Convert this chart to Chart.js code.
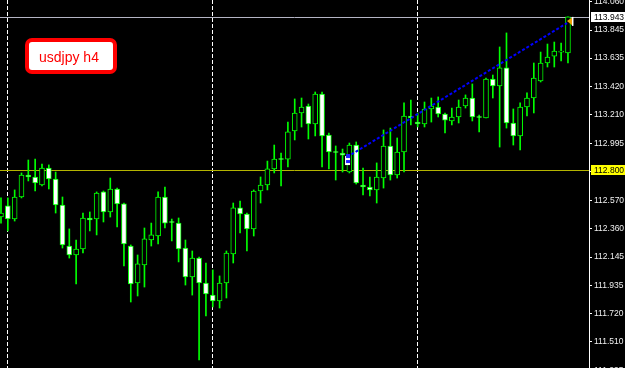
<!DOCTYPE html>
<html>
  <head>
    <meta charset="UTF-8">
    <title>usdjpy h4</title>
    <script src="https://cdn.jsdelivr.net/npm/chart.js@4.4.0/dist/chart.umd.min.js"></script>
    <style>
      html, body { margin: 0; padding: 0; background: #000; }
      canvas { display: block; }
    </style>
  </head>
  <body>
    <canvas id="chart" width="625" height="368"></canvas>

    <script>
      // USDJPY H4 candles (oldest first)
      const opens = [
        112.445, 112.528, 112.430, 112.595, 112.760, 112.745, 112.685, 112.812, 112.730, 112.535,
        112.228, 112.161, 112.206, 112.438, 112.430, 112.633, 112.483, 112.655, 112.543, 112.228,
        111.951, 112.086, 112.273, 112.303, 112.595, 112.408, 112.400, 112.213, 111.996, 112.138,
        111.951, 111.861, 111.817, 111.951, 112.168, 112.513, 112.468, 112.356, 112.640, 112.685,
        112.805, 112.879, 112.879, 113.089, 113.224, 113.276, 113.142, 113.366, 113.059, 112.932,
        112.924, 112.782, 112.984, 112.685, 112.670, 112.648, 112.737, 112.977, 112.760, 112.932,
        113.201, 113.156, 113.142, 113.254, 113.269, 113.216, 113.164, 113.194, 113.276, 113.336,
        113.194, 113.186, 113.478, 113.426, 113.561, 113.149, 113.052, 113.269, 113.336, 113.463,
        113.598, 113.650, 113.680, 113.673
      ];
      const highs = [
        112.588, 112.588, 112.648, 112.775, 112.872, 112.879, 112.842, 112.835, 112.782, 112.595,
        112.356, 112.273, 112.475, 112.483, 112.633, 112.640, 112.737, 112.662, 112.550, 112.236,
        112.161, 112.363, 112.400, 112.633, 112.670, 112.430, 112.438, 112.273, 112.191, 112.146,
        112.101, 112.049, 112.004, 112.191, 112.550, 112.565, 112.475, 112.648, 112.745, 112.864,
        112.984, 112.924, 113.156, 113.329, 113.336, 113.291, 113.381, 113.381, 113.074, 112.977,
        112.954, 112.999, 113.007, 112.812, 112.745, 112.850, 113.097, 113.111, 113.037, 113.299,
        113.321, 113.224, 113.306, 113.336, 113.344, 113.224, 113.261, 113.321, 113.359, 113.441,
        113.209, 113.486, 113.508, 113.718, 113.823, 113.254, 113.299, 113.374, 113.598, 113.680,
        113.740, 113.755, 113.748, 113.943
      ];
      const lows = [
        112.400, 112.341, 112.415, 112.588, 112.715, 112.640, 112.677, 112.655, 112.475, 112.213,
        112.138, 111.944, 112.176, 112.341, 112.311, 112.408, 112.445, 112.371, 112.079, 111.809,
        111.854, 111.921, 112.228, 112.243, 112.363, 112.266, 112.109, 111.936, 111.861, 111.375,
        111.704, 111.772, 111.764, 111.839, 112.101, 112.326, 112.191, 112.303, 112.550, 112.648,
        112.775, 112.677, 112.820, 113.022, 113.119, 113.029, 113.052, 112.820, 112.805, 112.722,
        112.782, 112.775, 112.692, 112.610, 112.603, 112.550, 112.662, 112.722, 112.737, 112.782,
        113.134, 113.119, 113.119, 113.156, 113.194, 113.074, 113.134, 113.149, 113.261, 113.164,
        113.082, 113.186, 113.336, 112.969, 113.111, 112.984, 112.947, 113.201, 113.224, 113.456,
        113.568, 113.568, 113.613, 113.598
      ];
      const closes = [
        112.475, 112.430, 112.595, 112.760, 112.745, 112.700, 112.812, 112.730, 112.535, 112.236,
        112.161, 112.206, 112.438, 112.423, 112.625, 112.483, 112.655, 112.543, 112.243, 111.944,
        112.094, 112.281, 112.311, 112.595, 112.400, 112.404, 112.206, 111.996, 112.138, 111.951,
        111.869, 111.817, 111.951, 112.176, 112.513, 112.468, 112.356, 112.640, 112.685, 112.805,
        112.879, 112.876, 113.082, 113.224, 113.269, 113.142, 113.366, 113.052, 112.932, 112.928,
        112.909, 112.984, 112.700, 112.670, 112.648, 112.745, 112.977, 112.760, 112.932, 113.201,
        113.186, 113.142, 113.254, 113.276, 113.216, 113.171, 113.194, 113.269, 113.336, 113.194,
        113.190, 113.478, 113.426, 113.561, 113.149, 113.052, 113.269, 113.336, 113.486, 113.598,
        113.643, 113.688, 113.684, 113.943
      ];

      // price scale labels as MT4 prints them
      const priceTicks = [114.060, 113.845, 113.635, 113.420, 113.210, 112.995, 112.785,
                          112.570, 112.360, 112.145, 111.935, 111.720, 111.510, 111.295];
      // period separators (candle index)
      const separators = [1, 31, 61];

      // trend line drawn on the chart: [candle index, price]
      const trendX = [50.66, 82.87];
      const trendY = [112.894, 113.897];

      const bidPrice = 113.943;
      const levelPrice = 112.800;
      const title = 'usdjpy h4';

      const LIME = '#00ff00';
      const FONT = '"Liberation Sans", Arial, sans-serif';

      const idx = opens.map((_, i) => i);
      const bodyColors = idx.map(i => closes[i] >= opens[i] ? '#000000' : '#ffffff');

      const overlay = {
        id: 'overlay',
        beforeDatasetsDraw(chart) {
          const { ctx, chartArea: a, scales: { y } } = chart;
          ctx.save();
          ctx.lineWidth = 1;
          ctx.strokeStyle = '#b4b4c4';
          let py = Math.round(y.getPixelForValue(bidPrice)) + 0.5;
          ctx.beginPath(); ctx.moveTo(a.left, py); ctx.lineTo(a.right, py); ctx.stroke();
          ctx.strokeStyle = '#b4b400';
          py = Math.round(y.getPixelForValue(levelPrice)) + 0.5;
          ctx.beginPath(); ctx.moveTo(a.left, py); ctx.lineTo(a.right, py); ctx.stroke();
          ctx.restore();
        },
        afterDraw(chart) {
          const { ctx, chartArea: a, scales: { x, y } } = chart;
          ctx.save();

          // price tags on the axis
          ctx.font = '8.5px ' + FONT;
          ctx.textBaseline = 'middle';
          const tag = (price, bg) => {
            const py = Math.round(y.getPixelForValue(price));
            ctx.fillStyle = bg;
            ctx.fillRect(a.right + 2, py - 5, 625 - a.right - 2, 10);
            ctx.fillStyle = '#000';
            ctx.fillText(price.toFixed(3), a.right + 5, py + 0.5);
          };
          tag(bidPrice, '#ffffff');
          tag(levelPrice, '#ffff00');

          // bid arrow on the last candle
          const lx = x.getPixelForValue(idx.length - 1);
          const by = y.getPixelForValue(bidPrice);
          ctx.fillStyle = '#f0a000';
          ctx.beginPath();
          ctx.moveTo(lx - 1, by + 4);
          ctx.lineTo(lx + 5, by);
          ctx.lineTo(lx + 5, by + 9);
          ctx.closePath();
          ctx.fill();
          ctx.fillStyle = '#ffffff';
          ctx.fillRect(lx + 4, by, 1.5, 9);

          // anchor glyph at the start of the trend line
          const tx = x.getPixelForValue(trendX[0]);
          const ty = y.getPixelForValue(trendY[0]);
          ctx.fillStyle = '#ffffff';
          ctx.fillRect(tx - 2, ty - 1, 5, 9);
          ctx.fillStyle = '#2020ff';
          ctx.fillRect(tx - 1, ty - 3, 4, 4);
          ctx.fillRect(tx - 1, ty + 3, 4, 3);

          // chart label
          ctx.lineWidth = 4;
          ctx.strokeStyle = '#ff0000';
          ctx.fillStyle = '#ffffff';
          ctx.beginPath();
          ctx.roundRect(27, 40, 88, 32, 5);
          ctx.fill();
          ctx.stroke();
          ctx.fillStyle = '#ff0000';
          ctx.font = '14px ' + FONT;
          ctx.textBaseline = 'alphabetic';
          ctx.fillText(title, 39, 62);
          ctx.restore();
        }
      };

      new Chart(document.getElementById('chart'), {
        type: 'bar',
        data: {
          datasets: [
            {
              type: 'line',
              data: trendX.map((v, i) => ({ x: v, y: trendY[i] })),
              borderColor: '#0000ff',
              borderWidth: 2,
              borderDash: [3, 2],
              pointRadius: 0,
              order: 0
            },
            {
              data: idx.map(i => ({ x: i, y: [opens[i], closes[i]] })),
              backgroundColor: bodyColors,
              borderColor: LIME,
              borderWidth: 1,
              borderSkipped: false,
              barThickness: 5,
              minBarLength: 1,
              grouped: false,
              order: 1
            },
            {
              data: idx.map(i => ({ x: i, y: [lows[i], highs[i]] })),
              backgroundColor: LIME,
              borderWidth: 0,
              barThickness: 1,
              grouped: false,
              order: 2
            }
          ]
        },
        options: {
          responsive: false,
          animation: false,
          events: [],
          layout: { padding: 0 },
          plugins: { legend: { display: false }, tooltip: { enabled: false } },
          scales: {
            x: {
              type: 'linear',
              min: -0.146,
              max: 86.08,
              offset: false,
              grid: { offset: false, color: '#ffffff', lineWidth: 1, drawTicks: false },
              border: { display: false, dash: [4, 2] },
              ticks: { display: false },
              afterBuildTicks: s => { s.ticks = separators.map(v => ({ value: v })); },
              afterFit: s => { s.height = 0; s.paddingLeft = 0; s.paddingRight = 0; }
            },
            y: {
              type: 'linear',
              position: 'right',
              min: 111.315,
              max: 114.0696,
              grid: { drawOnChartArea: false, drawTicks: true, tickLength: 3, color: '#ffffff' },
              border: { color: '#ffffff', width: 1 },
              ticks: {
                autoSkip: false,
                padding: 2,
                color: '#f0f0f0',
                font: { family: FONT, size: 8.5 },
                callback: v => v.toFixed(3)
              },
              afterBuildTicks: s => { s.ticks = priceTicks.map(v => ({ value: v })); },
              afterFit: s => { s.width = 36; s.paddingTop = 0; s.paddingBottom = 0; }
            }
          }
        },
        plugins: [overlay]
      });
    </script>
  </body>
</html>
